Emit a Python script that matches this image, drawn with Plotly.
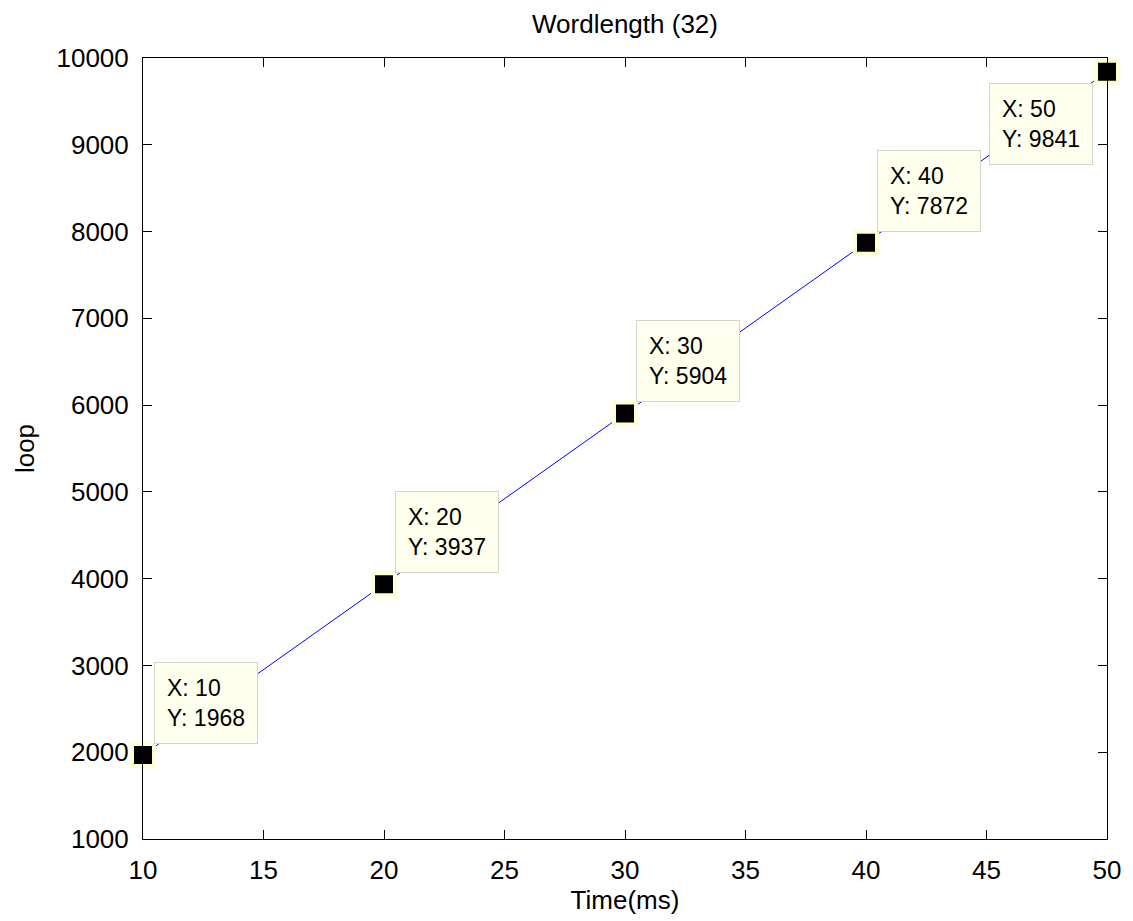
import plotly.graph_objects as go

x_vals = [10, 20, 30, 40, 50]
y_vals = [1968, 3937, 5904, 7872, 9841]
x_ticks = [10, 15, 20, 25, 30, 35, 40, 45, 50]
y_ticks = [1000, 2000, 3000, 4000, 5000, 6000, 7000, 8000, 9000, 10000]
title_text = "Wordlength (32)"
x_title = "Time(ms)"
y_title = "loop"

font_family = "Liberation Sans, Arial, sans-serif"

fig = go.Figure()
fig.add_trace(go.Scatter(x=x_vals, y=y_vals, mode="lines",
                         line=dict(color="#0000ff", width=1), hoverinfo="skip"))
fig.add_trace(go.Scatter(x=x_vals, y=y_vals, mode="markers",
                         marker=dict(symbol="square", size=22, color="black",
                                     line=dict(color="#ffffd6", width=4)),
                         cliponaxis=False, hoverinfo="skip"))

annotations = []
for xv, yv in zip(x_vals, y_vals):
    last = xv == x_vals[-1]
    annotations.append(dict(
        x=xv, y=yv, xref="x", yref="y",
        text=f"X: {xv}<br>Y: {yv}",
        showarrow=False, align="left",
        xanchor="right" if last else "left",
        yanchor="top" if last else "bottom",
        xshift=-14 if last else 11,
        yshift=-11 if last else 11,
        borderpad=12,
        bgcolor="#ffffee", bordercolor="#d4d4cc", borderwidth=1,
        font=dict(family=font_family, size=23, color="black"),
    ))

axis_common = dict(showgrid=False, zeroline=False, showline=True, linecolor="black",
                   linewidth=1, mirror="ticks", ticks="inside", ticklen=9,
                   tickcolor="black", tickfont=dict(family=font_family, size=26, color="black"))

fig.update_layout(
    width=1133, height=921,
    margin=dict(l=143, r=18, t=58, b=82),
    paper_bgcolor="white", plot_bgcolor="white",
    showlegend=False,
    title=dict(text=title_text, x=0.5, xref="paper", xanchor="center",
               y=1, yref="paper", yanchor="bottom", pad=dict(b=25),
               font=dict(family=font_family, size=26, color="black")),
    xaxis=dict(range=[10, 50], tickmode="array", tickvals=x_ticks,
               ticklabelstandoff=8,
               title=dict(text=x_title, standoff=4,
                          font=dict(family=font_family, size=26, color="black")),
               **axis_common),
    yaxis=dict(range=[1000, 10000], tickmode="array", tickvals=y_ticks,
               ticktext=[str(v) for v in y_ticks], ticklabelstandoff=8,
               title=dict(text=y_title, standoff=14,
                          font=dict(family=font_family, size=26, color="black")),
               **axis_common),
    annotations=annotations,
)

fig.write_html("out.html", config={"displayModeBar": False},
               post_script="document.body.style.margin='0';document.body.style.overflow='hidden';")
